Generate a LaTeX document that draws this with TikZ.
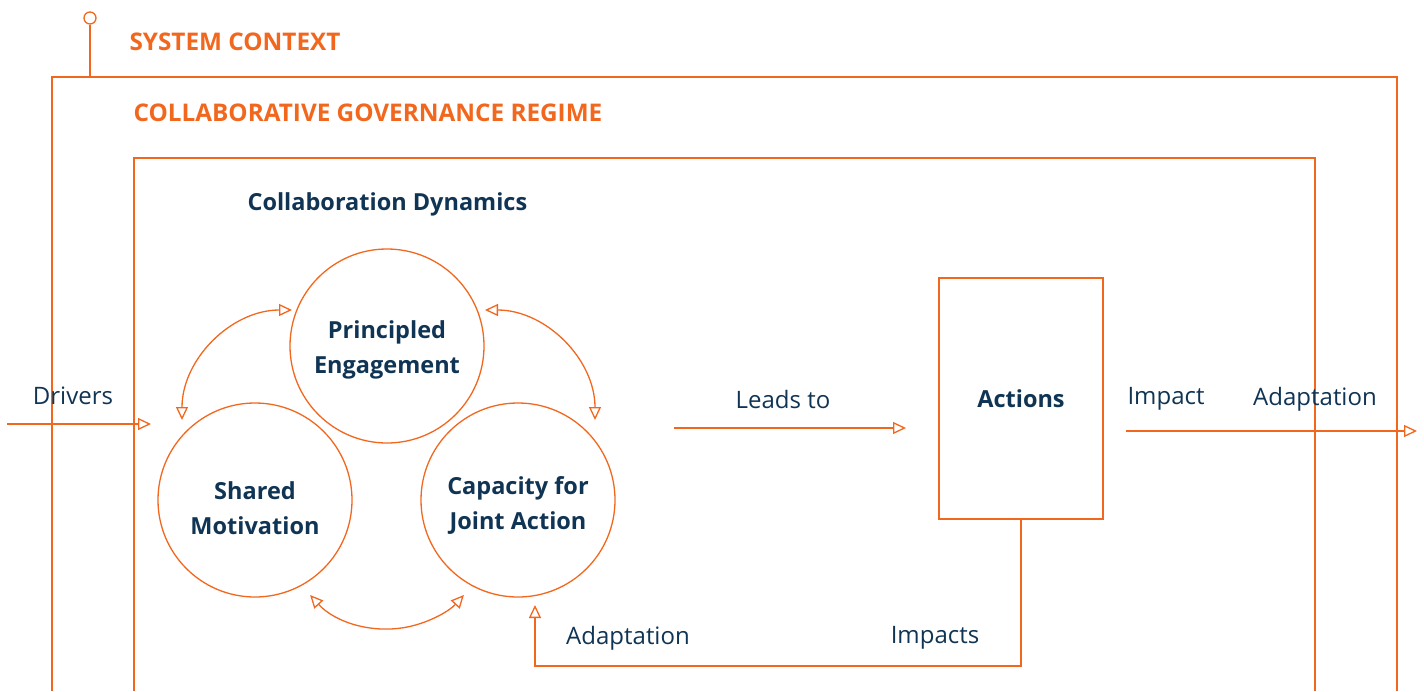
\documentclass[tikz,border=0pt]{standalone}
\usepackage{fontspec}
\setmainfont{Open Sans}
\usetikzlibrary{arrows.meta,calc}
\definecolor{org}{RGB}{242,103,30}
\definecolor{navy}{RGB}{16,52,84}
\begin{document}
\begin{tikzpicture}[x=1pt,y=-1pt,
  ln/.style={draw=org,line width=1.3pt},
  tip/.style={-{Triangle[open,length=13pt,width=12pt,line width=1.3pt]}},
  dtip/.style={{Triangle[open,length=13pt,width=12pt,line width=1.3pt]}-{Triangle[open,length=13pt,width=12pt,line width=1.3pt]}},
  circ/.style={circle,ln,minimum size=194pt,inner sep=0pt},
  ctext/.style={align=center,text=navy,font=\fontsize{23.5}{35}\selectfont\bfseries},
  head/.style={text=org,font=\fontsize{24.3}{28}\selectfont\bfseries,anchor=west},
  lab/.style={text=navy,font=\fontsize{24}{28}\selectfont}
]
\useasboundingbox (0,0) rectangle (1424,691);
% system context
\node[circle,ln,minimum size=12pt,inner sep=0pt] (pin) at (90,18) {};
\coordinate (pinb) at (90,77);
\draw[ln] (pin) -- (pinb);
\draw[ln] (52,691) -- (52,77) -- (1397,77) -- (1397,691);
\node[head] (sys) at (126,42) {SYSTEM CONTEXT};
% regime
\draw[ln] (134,691) -- (134,158) -- (1315,158) -- (1315,691);
\node[head] (cgr) at (130,113) {COLLABORATIVE GOVERNANCE REGIME};
\node[text=navy,font=\fontsize{23.5}{28}\selectfont\bfseries,anchor=west] (cd) at (244,204) {Collaboration Dynamics};
% circles
\node[circ] (pe) at (387,346) {};
\node[circ] (sm) at (255,500) {};
\node[circ] (cj) at (518,500) {};
\node[ctext] (pet) at (387,350) {Principled\\Engagement};
\node[ctext] (smt) at (255,508) {Shared\\Motivation};
\node[ctext] (cjt) at (518,505) {Capacity for\\Joint Action};
% arcs
\draw[ln,dtip] (292,310) arc[start angle=270,end angle=180,radius=110];
\draw[ln,dtip] (485,310) arc[start angle=270,end angle=360,radius=110];
\draw[ln,dtip] ($(387,525)+(137.7:104)$) arc[start angle=137.7,end angle=42.3,radius=104];
% drivers
\coordinate (d0) at (7,424);
\coordinate (d1) at (151,424);
\draw[ln,tip] (d0) -- (d1);
\node[lab] (drv) at (73,396) {Drivers};
% leads to
\coordinate (l0) at (674,428);
\coordinate (l1) at (906,428);
\draw[ln,tip] (l0) -- (l1);
\node[lab] (lt) at (783,399) {Leads to};
% actions
\node[draw=org,line width=1.3pt,minimum width=164pt,minimum height=241pt,inner sep=0pt] (act) at (1021,398.5) {};
\node[text=navy,font=\fontsize{23.5}{28}\selectfont\bfseries] (actl) at (1021,399) {Actions};
% impact adaptation
\coordinate (i0) at (1126,431);
\coordinate (i1) at (1417,431);
\draw[ln,tip] (i0) -- (i1);
\node[lab] (imp) at (1166,399) {Impact};
\node[lab] (ad1) at (1315,399) {Adaptation};
% feedback
\coordinate (fb) at (535,605);
\draw[ln,tip] (act.south) |- (535,666) -- (fb);
\node[lab] (imps) at (935,638) {Impacts};
\node[lab] (ad2) at (628,638) {Adaptation};
\end{tikzpicture}
\end{document}
